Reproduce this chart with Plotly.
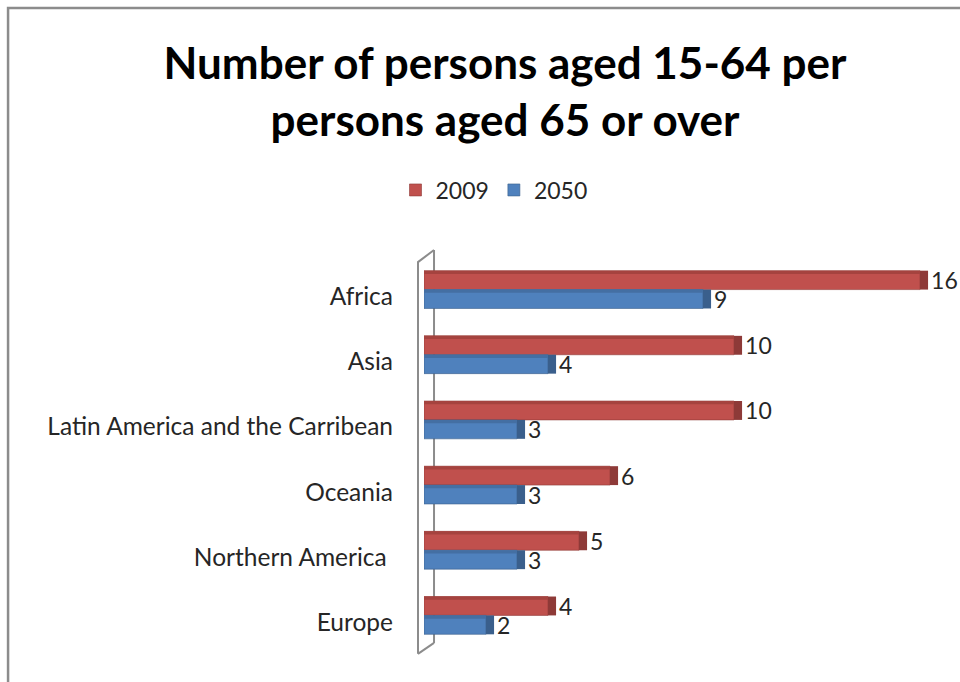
import plotly.graph_objects as go

categories = ["Africa", "Asia", "Latin America and the Carribean", "Oceania", "Northern America ", "Europe"]
values_2009 = [16, 10, 10, 6, 5, 4]
values_2050 = [9, 4, 3, 3, 3, 2]
series_names = ["2009", "2050"]

RED, RED_T, RED_D = "#C0504D", "#A5433F", "#8E3A38"
BLUE, BLUE_T, BLUE_D = "#4F81BD", "#446FA3", "#3A5F8C"
DEPTH = 0.26
W = 0.29
TOP = 0.05

fig = go.Figure()
for name, vals, col, top, dark, off in [(series_names[0], values_2009, RED, RED_T, RED_D, -W),
                                         (series_names[1], values_2050, BLUE, BLUE_T, BLUE_D, 0.0)]:
    fig.add_trace(go.Bar(
        y=categories, x=vals, orientation="h", name=name,
        marker=dict(color=col, line=dict(color=dark, width=0.6)),
        width=W, offset=off, hoverinfo="x+y",
    ))
    # darker top face (3-D look)
    fig.add_trace(go.Bar(
        y=categories, x=vals, orientation="h", showlegend=False,
        marker=dict(color=top, line=dict(width=0)),
        width=TOP, offset=off, hoverinfo="skip",
    ))
    # darker end face with value label
    fig.add_trace(go.Bar(
        y=categories, x=[DEPTH] * len(vals), base=vals, orientation="h",
        marker=dict(color=dark, line=dict(width=0)),
        width=W, offset=off, showlegend=False,
        text=[str(v) for v in vals], textposition="outside", constraintext="none",
        textfont=dict(size=23, color="#262626", family="Lato"),
        cliponaxis=False, hoverinfo="skip",
    ))

GRAY = "#8c8c8c"
fig.add_shape(type="path", path="M -0.0112,-0.015 L -0.0112,0.987 L 0.0187,1.018",
              xref="paper", yref="paper", line=dict(color=GRAY, width=2), layer="below")
fig.add_shape(type="path", path="M -0.0112,-0.015 L 0.0187,0.013",
              xref="paper", yref="paper", line=dict(color=GRAY, width=2), layer="below")
fig.add_shape(type="line", x0=0.0187, x1=0.0187, y0=0.013, y1=1.018,
              xref="paper", yref="paper", line=dict(color=GRAY, width=2), layer="below")
# outer chart border
fig.add_shape(type="rect", x0=-0.776, x1=1.2, y0=-0.3, y1=1.637,
              xref="paper", yref="paper", line=dict(color=GRAY, width=2.5), layer="below")

fig.update_layout(
    width=960, height=682,
    margin=dict(l=424, r=0, t=257, b=34),
    paper_bgcolor="white", plot_bgcolor="white",
    barmode="overlay",
    font=dict(family="Lato", color="#262626"),
    title=dict(text="<b>Number of persons aged 15-64 per<br>persons aged 65 or over</b>",
               x=505 / 960, xanchor="center", y=1 - 79 / 682, yanchor="middle",
               font=dict(size=44, color="#000000", family="Lato")),
    legend=dict(orientation="h", x=(494 - 424) / 536, xanchor="center", y=1 + (257 - 190) / 391,
                yanchor="middle", font=dict(size=23, color="#262626"),
                itemwidth=30, traceorder="normal"),
    xaxis=dict(range=[0, 536 / 31], visible=False, showgrid=False),
    yaxis=dict(autorange="reversed", showgrid=False, showline=False, ticks="",
               tickfont=dict(size=24.5, color="#262626"), ticklabelstandoff=30, ticklabelshift=-7),
    showlegend=True,
)

fig.write_html("out.html", config={"displayModeBar": False},
               post_script="document.body.style.margin='0';")
